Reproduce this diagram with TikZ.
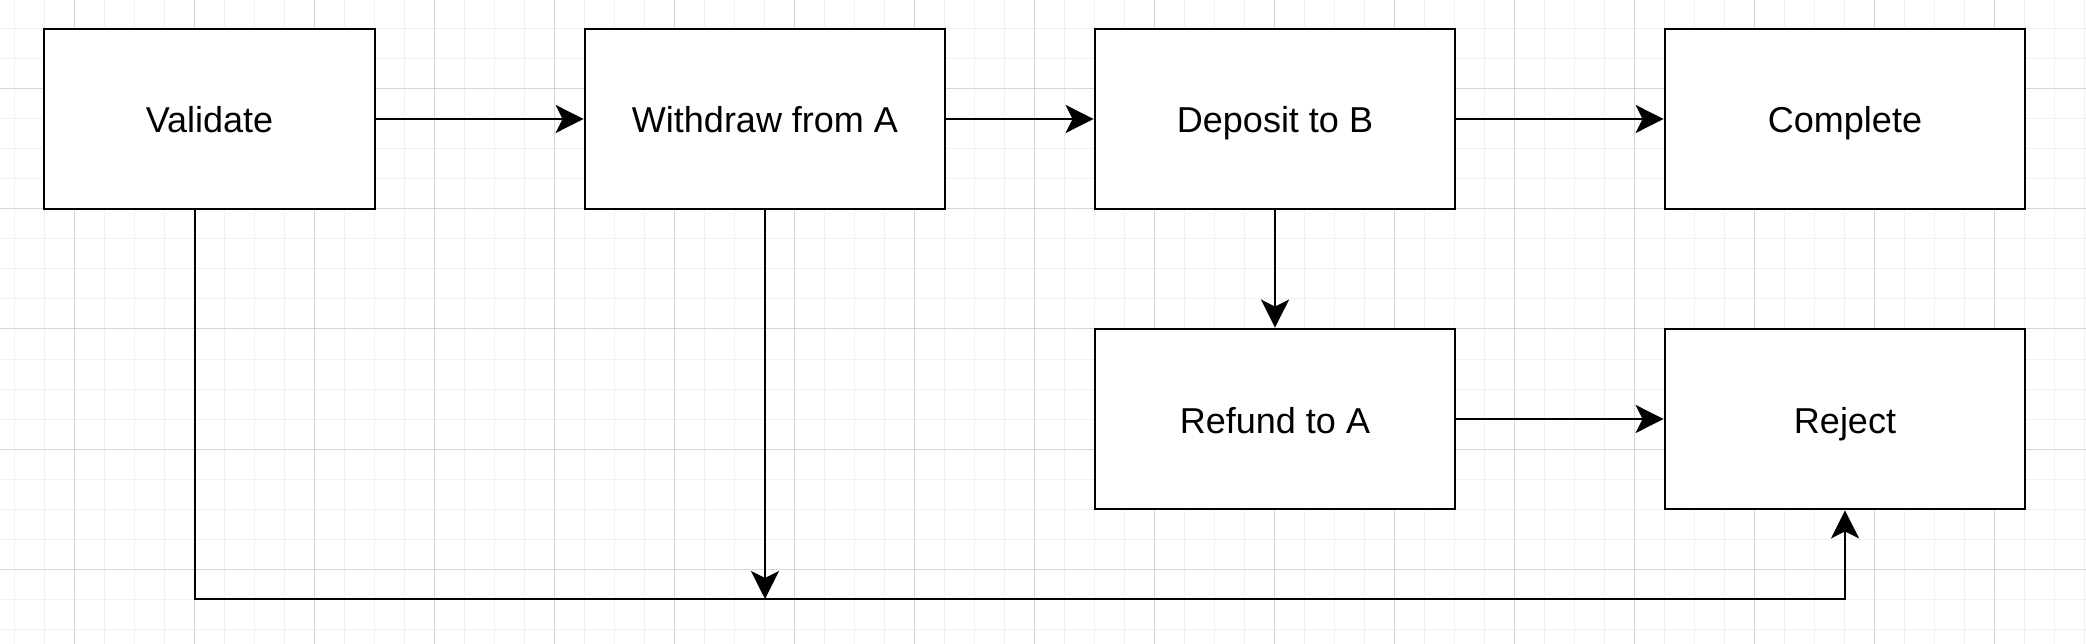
\documentclass[tikz,border=0pt]{standalone}
\usepackage{fontspec}
\setmainfont{Liberation Sans}
\usetikzlibrary{arrows.meta}
\definecolor{minorgrid}{HTML}{F0F0F0}
\definecolor{majorgrid}{HTML}{D6D6D6}
\begin{document}
\begin{tikzpicture}[x=1pt,y=-1pt,
  box/.style={draw=black, line width=2.8pt, fill=white, minimum height=180pt, inner sep=0pt, text height=28pt, text depth=0pt, font=\fontsize{36}{42}\selectfont},
  wide/.style={box, minimum width=360pt},
  conn/.style={draw=black, line width=2.8pt, -{Stealth[length=28pt, width=28pt, inset=7pt]}}]
\useasboundingbox (0,0) rectangle (2086,644);
\fill[white] (0,0) rectangle (2086,644);
\foreach \x in {14,44,...,2084} \draw[minorgrid, line width=1pt] (\x,0) -- (\x,644);
\foreach \y in {-1,29,...,643} \draw[minorgrid, line width=1pt] (0,\y) -- (2086,\y);
\foreach \x in {74,194,...,2074} \draw[majorgrid, line width=1pt] (\x,0) -- (\x,644);
\foreach \y in {89,209,...,569} \draw[majorgrid, line width=1pt] (0,\y) -- (2086,\y);

\node[box, minimum width=331pt] (v) at (209.5,119) {Validate};
\node[wide] (w) at (765,119) {Withdraw from A};
\node[wide] (d) at (1275,119) {Deposit to B};
\node[wide] (c) at (1845,119) {Complete};
\node[wide] (r) at (1275,419) {Refund to A};
\node[wide] (j) at (1845,419) {Reject};

\coordinate (vb) at (195,599);
\coordinate (jb) at (1845,599);
\coordinate (wb) at (765,599);

\draw[conn] (v.east) -- (w.west);
\draw[conn] (w.east) -- (d.west);
\draw[conn] (d.east) -- (c.west);
\draw[conn] (d.south) -- (r.north);
\draw[conn] (r.east) -- (j.west);
\draw[conn] (w.south) -- (wb);
\draw[conn] (v.south -| vb) -- (vb) -- (jb) -- (j.south);
\end{tikzpicture}
\end{document}
